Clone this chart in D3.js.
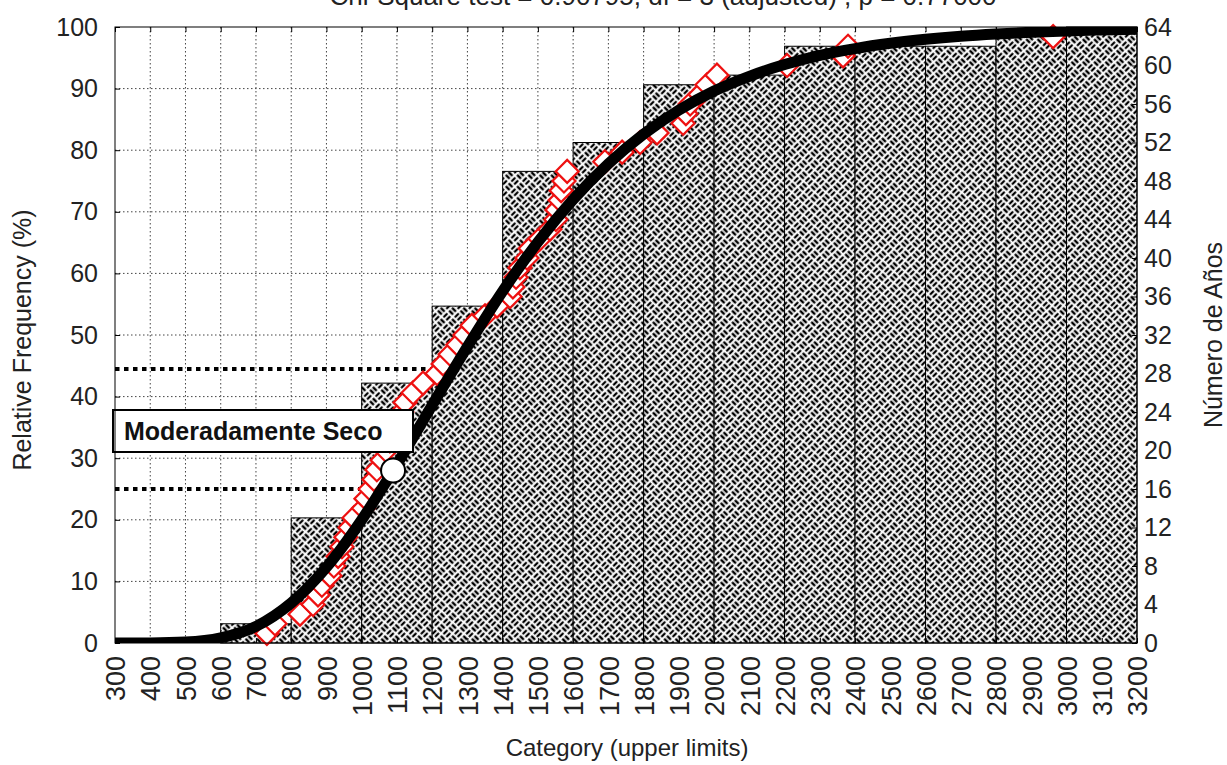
<!DOCTYPE html>
<html>
<head>
<meta charset="utf-8">
<script src="https://cdn.jsdelivr.net/npm/d3@7"></script>
<style>
  body { margin: 0; background: #fff; }
  svg { display: block; font-family: "Liberation Sans", Arial, sans-serif; }
</style>
</head>
<body>
<svg id="chart" width="1227" height="765"></svg>
<script>
// ---- data ----
const categoryTicks = [300,400,500,600,700,800,900,1000,1100,1200,1300,1400,1500,1600,1700,
  1800,1900,2000,2100,2200,2300,2400,2500,2600,2700,2800,2900,3000,3100,3200];
const percentTicks = [0,10,20,30,40,50,60,70,80,90,100];
const countTicks = [0,4,8,12,16,20,24,28,32,36,40,44,48,52,56,60,64];
const totalYears = 64;

// cumulative histogram (number of years at or below the upper limit)
const binLower = [600,800,1000,1200,1400,1600,1800,2000,2200,2400,2600,2800,3000];
const binUpper = [800,1000,1200,1400,1600,1800,2000,2200,2400,2600,2800,3000,3200];
const cumulativeYears = [2,13,27,35,49,52,58,59,62,62,62,63,64];

// fitted cumulative distribution (%), read at each category
const fittedPercent = [0,0.02,0.16,0.84,2.7,6.5,12.3,20.0,29.0,38.6,48.1,57.1,65.1,72.0,77.8,
  82.6,86.5,89.6,92.0,93.9,95.4,96.5,97.35,98.0,98.5,98.87,99.15,99.36,99.52,99.64];

// observed annual values, sorted (rank gives cumulative years)
const observedValues = [731,754,825,862,876,887,910,921,933,944,955,967,978,1005,1012,1024,
  1035,1043,1058,1069,1080,1095,1103,1114,1123,1146,1174,1214,1231,1251,1273,1293,1313,1350,
  1384,1421,1429,1438,1449,1469,1478,1506,1534,1551,1554,1563,1566,1574,1583,1690,1739,1790,
  1838,1912,1920,1932,1960,1980,2008,2207,2366,2380,2962];

// dry-class thresholds: [percent, value where the line meets the curve]
const thresholdPercent = [44.5, 25];
const thresholdValue = [1260, 1070];
const markerValue = 1089;
const markerPercent = 28;
const classLabel = "Moderadamente Seco";
const titleText = "Chi-Square test = 0.90795, df = 3 (adjusted) , p = 0.77000";

// ---- layout ----
const plot = { left: 115, right: 1137, top: 27, bottom: 643 };
const svg = d3.select("#chart");
const x = d3.scaleLinear().domain([300, 3200]).range([plot.left, plot.right]);
const yPct = d3.scaleLinear().domain([0, 100]).range([plot.bottom, plot.top]);
const yCnt = d3.scaleLinear().domain([0, totalYears]).range([plot.bottom, plot.top]);
const textColor = "#222";

// ---- defs: weave fill and clip ----
const defs = svg.append("defs");
const cell = 8;
const weave = defs.append("pattern")
  .attr("id", "weave")
  .attr("patternUnits", "userSpaceOnUse")
  .attr("width", cell * 2).attr("height", cell * 2)
  .attr("patternTransform", "rotate(45)");
weave.append("rect").attr("width", cell * 2).attr("height", cell * 2).attr("fill", "#fff");
const wp = [];
const offs = [2, 6];
// horizontal pairs in cells (0,0) and (1,1); vertical pairs in (1,0) and (0,1)
[[0,0],[1,1]].forEach(([cx, cy]) => {
  offs.forEach(o => wp.push(`M${cx*cell+1.3},${cy*cell+o}H${cx*cell+cell-1.3}`));
});
[[1,0],[0,1]].forEach(([cx, cy]) => {
  offs.forEach(o => wp.push(`M${cx*cell+o},${cy*cell+1.3}V${cy*cell+cell-1.3}`));
});
weave.append("path").attr("d", wp.join("")).attr("stroke", "#000").attr("stroke-width", 2.3).attr("fill", "none");

defs.append("clipPath").attr("id", "plotClip")
  .append("rect")
  .attr("x", plot.left).attr("y", plot.top)
  .attr("width", plot.right - plot.left).attr("height", plot.bottom - plot.top);

// ---- title (runs off the top edge) ----
svg.append("text")
  .attr("x", 663).attr("y", 5)
  .attr("text-anchor", "middle")
  .attr("font-size", 26)
  .attr("fill", textColor)
  .text(titleText);

// ---- grid ----
const grid = svg.append("g").attr("stroke", "#444").attr("stroke-width", 1)
  .attr("stroke-dasharray", "1.5,2.5");
grid.selectAll("line.v").data(categoryTicks.slice(1, -1)).join("line")
  .attr("x1", d => x(d)).attr("x2", d => x(d))
  .attr("y1", plot.top).attr("y2", plot.bottom);
grid.selectAll("line.h").data(percentTicks.slice(1, -1)).join("line")
  .attr("x1", plot.left).attr("x2", plot.right)
  .attr("y1", d => yPct(d)).attr("y2", d => yPct(d));

// ---- histogram bars ----
svg.append("g").selectAll("rect").data(cumulativeYears).join("rect")
  .attr("x", (d, i) => x(binLower[i]))
  .attr("width", (d, i) => x(binUpper[i]) - x(binLower[i]))
  .attr("y", d => yCnt(d))
  .attr("height", d => plot.bottom - yCnt(d))
  .attr("fill", "url(#weave)")
  .attr("stroke", "#000").attr("stroke-width", 1);

// ---- threshold dotted lines ----
svg.append("g").selectAll("line").data(thresholdPercent).join("line")
  .attr("x1", plot.left).attr("x2", (d, i) => x(thresholdValue[i]))
  .attr("y1", d => yPct(d)).attr("y2", d => yPct(d))
  .attr("stroke", "#000").attr("stroke-width", 4)
  .attr("stroke-dasharray", "4.5,4.5");

// ---- observed points ----
const diamond = "M0,-11.5L11.5,0L0,11.5L-11.5,0Z";
svg.append("g").selectAll("path").data(observedValues).join("path")
  .attr("d", diamond)
  .attr("transform", (d, i) => `translate(${x(d)},${yCnt(i + 1)})`)
  .attr("fill", "#fff")
  .attr("stroke", "#ee1111").attr("stroke-width", 2.2);

// ---- fitted curve ----
const line = d3.line()
  .x((d, i) => x(categoryTicks[i]))
  .y(d => yPct(d))
  .curve(d3.curveMonotoneX);
svg.append("path")
  .datum(fittedPercent)
  .attr("clip-path", "url(#plotClip)")
  .attr("d", line)
  .attr("fill", "none")
  .attr("stroke", "#000").attr("stroke-width", 11);

// ---- marker on the curve ----
svg.append("circle")
  .attr("cx", x(markerValue)).attr("cy", yPct(markerPercent)).attr("r", 12)
  .attr("fill", "#fff").attr("stroke", "#000").attr("stroke-width", 2);

// ---- class label ----
const lab = svg.append("g");
lab.append("rect")
  .attr("x", 113).attr("y", 410).attr("width", 300).attr("height", 42)
  .attr("fill", "#fff").attr("stroke", "#000").attr("stroke-width", 2);
lab.append("text")
  .attr("x", 124).attr("y", 440)
  .attr("font-size", 25).attr("font-weight", "bold")
  .attr("fill", "#111")
  .text(classLabel);

// ---- frame ----
svg.append("rect")
  .attr("x", plot.left).attr("y", plot.top)
  .attr("width", plot.right - plot.left).attr("height", plot.bottom - plot.top)
  .attr("fill", "none").attr("stroke", "#000").attr("stroke-width", 1);

// ---- axes ----
function styleAxis(g) {
  g.select(".domain").remove();
  g.selectAll(".tick line").attr("stroke", "#000");
  g.selectAll(".tick text").attr("fill", textColor).attr("font-size", 25)
    .attr("font-family", '"Liberation Sans", Arial, sans-serif');
}
svg.append("g").attr("transform", `translate(${plot.left},0)`)
  .call(d3.axisLeft(yPct).tickValues(percentTicks).tickSize(-5).tickPadding(17))
  .call(styleAxis);
svg.append("g").attr("transform", `translate(${plot.right},0)`)
  .call(d3.axisRight(yCnt).tickValues(countTicks).tickSize(-5).tickPadding(7))
  .call(styleAxis);
svg.append("g").attr("transform", `translate(0,${plot.top})`)
  .call(d3.axisTop(x).tickValues(categoryTicks).tickSize(-5).tickFormat(""))
  .call(styleAxis);
const xAxis = svg.append("g").attr("transform", `translate(0,${plot.bottom})`)
  .call(d3.axisBottom(x).tickValues(categoryTicks).tickSize(-5).tickFormat(d3.format("d")))
  .call(styleAxis);
xAxis.selectAll(".tick text")
  .attr("font-size", 27)
  .attr("text-anchor", "end")
  .attr("transform", "translate(0,13) rotate(-90)")
  .attr("x", 0).attr("y", 0).attr("dy", "0.36em");

// ---- axis titles ----
svg.append("text")
  .attr("transform", "translate(31,340) rotate(-90)")
  .attr("text-anchor", "middle").attr("font-size", 25).attr("fill", textColor)
  .text("Relative Frequency (%)");
svg.append("text")
  .attr("transform", "translate(1222,335) rotate(-90)")
  .attr("text-anchor", "middle").attr("font-size", 25).attr("fill", textColor)
  .text("Número de Años");
svg.append("text")
  .attr("x", 627).attr("y", 756)
  .attr("text-anchor", "middle").attr("font-size", 24).attr("fill", textColor)
  .text("Category (upper limits)");
</script>
</body>
</html>
